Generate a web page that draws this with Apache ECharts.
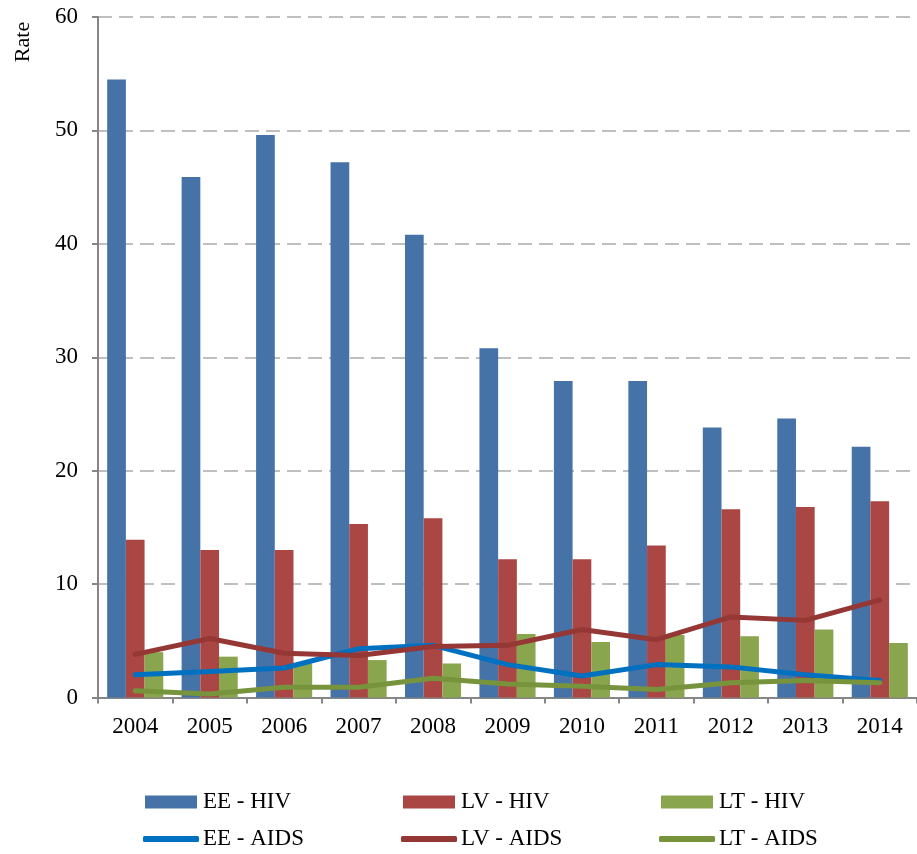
<!DOCTYPE html>
<html>
<head>
<meta charset="utf-8">
<script src="https://cdn.jsdelivr.net/npm/echarts@6/dist/echarts.min.js"></script>
<style>html,body{margin:0;padding:0;background:#fff}#c{width:917px;height:854px}</style>
</head>
<body>
<div id="c"></div>
<script>
var years = ['2004','2005','2006','2007','2008','2009','2010','2011','2012','2013','2014'];
var eeHiv = [54.5, 45.9, 49.6, 47.2, 40.8, 30.8, 27.9, 27.9, 23.8, 24.6, 22.1];
var lvHiv = [13.9, 13.0, 13.0, 15.3, 15.8, 12.2, 12.2, 13.4, 16.6, 16.8, 17.3];
var ltHiv = [4.0, 3.6, 3.0, 3.3, 3.0, 5.6, 4.9, 5.5, 5.4, 6.0, 4.8];
var eeAids = [2.0, 2.3, 2.6, 4.3, 4.6, 2.9, 1.9, 2.9, 2.7, 2.0, 1.5];
var lvAids = [3.8, 5.2, 3.9, 3.7, 4.5, 4.6, 6.0, 5.1, 7.1, 6.8, 8.6];
var ltAids = [0.6, 0.3, 0.9, 0.9, 1.7, 1.2, 1.0, 0.7, 1.3, 1.5, 1.3];
var names = ['EE - HIV','LV - HIV','LT - HIV','EE - AIDS','LV - AIDS','LT - AIDS'];
var colors = ['#4572A7','#AA4643','#89A54E','#0070C0','#953735','#77933C'];

var font = '"Liberation Serif", "Times New Roman", serif';
var chart = echarts.init(document.getElementById('c'));

function legendAt(i, left, top, isLine) {
  return {
    data: [names[i]], left: left, top: top, orient: 'horizontal',
    icon: isLine ? 'roundRect' : 'rect',
    itemWidth: isLine ? 56 : 52, itemHeight: isLine ? 6 : 13, itemGap: 0,
    textStyle: { fontFamily: font, fontSize: 23, color: '#000', padding: [0,0,0,isLine ? -1 : 1] },
    padding: 0, selectedMode: false
  };
}

function barSeries(i, data) {
  return { name: names[i], type: 'bar', data: data, barWidth: 18.7, barGap: '0%',
    itemStyle: { color: colors[i] }, z: 2, animation: false };
}
function lineSeries(i, data) {
  return { name: names[i], type: 'line', data: data, showSymbol: false, symbol: 'none',
    lineStyle: { color: colors[i], width: 5, cap: 'round', join: 'round' },
    itemStyle: { color: colors[i] }, z: 3, animation: false };
}

chart.setOption({
  animation: false,
  backgroundColor: '#fff',
  grid: { left: 98, top: 17, right: -6, bottom: 156.5 },
  legend: [
    legendAt(0, 145, 790.5, false),
    legendAt(1, 403, 790.5, false),
    legendAt(2, 661, 790.5, false),
    legendAt(3, 143, 827.5, true),
    legendAt(4, 401, 827.5, true),
    legendAt(5, 659, 827.5, true)
  ],
  xAxis: {
    type: 'category', data: years, boundaryGap: true,
    axisLine: { lineStyle: { color: '#868686', width: 2 } },
    axisTick: { show: true, length: 6, alignWithLabel: false, lineStyle: { color: '#868686', width: 2 } },
    axisLabel: { fontFamily: font, fontSize: 23, color: '#000', margin: 18 },
    splitLine: { show: false }
  },
  yAxis: {
    type: 'value', min: 0, max: 60, interval: 10,
    axisLine: { show: true, lineStyle: { color: '#868686', width: 2 } },
    axisTick: { show: true, length: 6, lineStyle: { color: '#868686', width: 2 } },
    axisLabel: { fontFamily: font, fontSize: 23, color: '#000', margin: 20 },
    splitLine: { show: true, lineStyle: { color: '#BFBFBF', width: 2, type: [14, 7] } }
  },
  graphic: [{
    type: 'text', x: 23, y: 42, rotation: Math.PI / 2,
    style: { text: 'Rate', fontFamily: font, fontSize: 22, fill: '#000', align: 'center', verticalAlign: 'middle' }
  }],
  series: [
    barSeries(0, eeHiv), barSeries(1, lvHiv), barSeries(2, ltHiv),
    lineSeries(3, eeAids), lineSeries(4, lvAids), lineSeries(5, ltAids)
  ]
});
</script>
</body>
</html>
